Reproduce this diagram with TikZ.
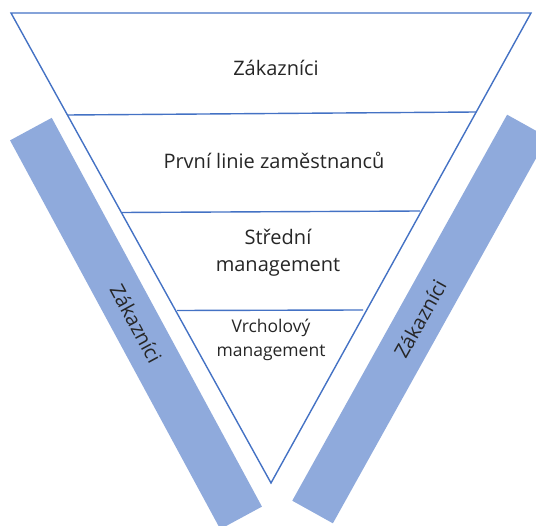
\documentclass[tikz,border=0pt]{standalone}
\usepackage{fontspec}
\setmainfont{Open Sans}
\definecolor{edgeblue}{HTML}{4472C4}
\definecolor{barblue}{HTML}{8FAADC}
\definecolor{ink}{HTML}{262626}
\begin{document}
\begin{tikzpicture}[x=1pt,y=-1pt,
  edge/.style={draw=edgeblue,line width=1.4pt,line join=miter},
  divider/.style={draw=edgeblue,line width=1.4pt},
  label/.style={text=ink,font=\fontsize{20}{27}\selectfont,align=center,inner sep=0pt},
  smalllabel/.style={text=ink,font=\fontsize{17.5}{24}\selectfont,align=center,inner sep=0pt},
  bar/.style={fill=barblue,draw=none,text=ink,font=\fontsize{20}{24}\selectfont,inner sep=0pt}]
\useasboundingbox (0,0) rectangle (536,526);
% side bars
\node[bar,rotate=-61.6,minimum width=442,minimum height=47.4] (leftbar) at (136,323.5) {Zákazníci};
\node[bar,rotate=60.9,minimum width=441.8,minimum height=46.5] (rightbar) at (420,319) {Zákazníci};
% inverted triangle
\coordinate (tl) at (11,13);
\coordinate (tr) at (531,13);
\coordinate (ap) at (271,483);
\draw[edge] (tl) -- (tr) -- (ap) -- cycle;
% layer dividers
\coordinate (d1l) at (68,115);   \coordinate (d1r) at (476,112);
\coordinate (d2l) at (122,212.5); \coordinate (d2r) at (420,211);
\coordinate (d3l) at (177,310.5); \coordinate (d3r) at (363,310);
\draw[divider] (d1l) -- (d1r);
\draw[divider] (d2l) -- (d2r);
\draw[divider] (d3l) -- (d3r);
% layer texts
\node[label] (customers) at (276,68) {Zákazníci};
\node[label] (frontline) at (274,160) {První linie zaměstnanců};
\node[label] (middle) at (278,253) {Střední\\management};
\node[smalllabel] (top) at (271,340) {Vrcholový\\management};
\end{tikzpicture}
\end{document}
